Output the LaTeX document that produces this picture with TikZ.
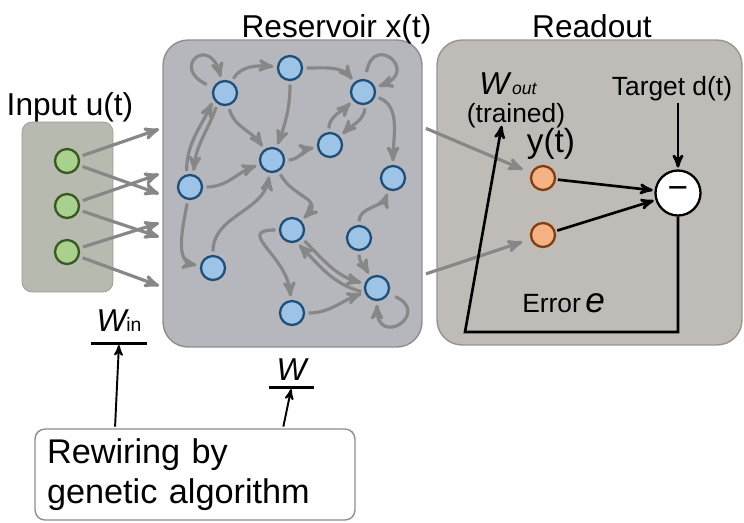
\documentclass[tikz,border=0pt]{standalone}
\usepackage{fontspec}
\setmainfont{Liberation Sans}
\usepackage{tikz}
\usetikzlibrary{arrows,positioning}
\definecolor{infill}{RGB}{183,186,175}
\definecolor{indraw}{RGB}{150,152,145}
\definecolor{resfill}{RGB}{181,183,188}
\definecolor{resdraw}{RGB}{140,142,146}
\definecolor{outfill}{RGB}{191,187,183}
\definecolor{outdraw}{RGB}{150,147,144}
\definecolor{edgegray}{RGB}{135,135,135}
\definecolor{greenfill}{RGB}{169,209,142}
\definecolor{greendraw}{RGB}{56,87,35}
\definecolor{bluefill}{RGB}{157,195,230}
\definecolor{bluedraw}{RGB}{31,78,121}
\definecolor{orangefill}{RGB}{244,177,131}
\definecolor{orangedraw}{RGB}{132,60,12}
\tikzset{
	%Define standard arrow tip
	>=stealth',
	%Define style for the three boxes
	inbox/.style={
		rectangle,
		rounded corners=0.2cm,
		draw=indraw, fill=infill, thin,
		minimum width=1.82cm,
		minimum height=3.4cm},
	resbox/.style={
		rectangle,
		rounded corners=0.5cm,
		draw=resdraw, fill=resfill, thick,
		minimum width=5.18cm,
		minimum height=6.14cm},
	outbox/.style={
		rectangle,
		rounded corners=0.5cm,
		draw=outdraw, fill=outfill, thick,
		minimum width=6.1cm,
		minimum height=6.1cm},
	gabox/.style={
		rectangle,
		rounded corners=0.2cm,
		draw=resdraw, fill=white, thick,
		minimum width=6.4cm,
		minimum height=1.82cm,
		inner xsep=0.24cm,
		text width=5.92cm,
		align=left,
		font=\fontsize{19.5}{22.8}\selectfont},
	% Define style for the units
	unit/.style={
		circle,
		line width=1.3pt,
		minimum size=0.48cm,
		inner sep=0pt},
	inunit/.style={unit, draw=greendraw, fill=greenfill},
	resunit/.style={unit, draw=bluedraw, fill=bluefill},
	outunit/.style={unit, draw=orangedraw, fill=orangefill},
	diffunit/.style={
		circle,
		draw=black, fill=white,
		line width=1.3pt,
		minimum size=0.9cm,
		inner sep=0pt,
		font=\fontsize{20}{20}\selectfont},
	% Define style for texts
	title/.style={font=\fontsize{18}{20}\selectfont, inner sep=0pt},
	label/.style={font=\fontsize{15}{17}\selectfont, inner sep=0pt},
	wlab/.style={font=\fontsize{18}{20}\selectfont\itshape},
	% Define arrow styles
	gpil/.style={
		->,
		draw=edgegray,
		line width=1.8pt,
		shorten <=2pt,
		shorten >=2pt,},
	selfloop/.style={
		gpil,
		shorten <=4pt,
		min distance=0.95cm},
	bpil/.style={
		->,
		draw=black,
		line width=1.5pt,
		shorten <=1pt,
		shorten >=1pt,},
	bar/.style={draw=black, line width=1.3pt}
}
\begin{document}
\begin{tikzpicture}[x=0.02cm, y=0.02cm]
		\useasboundingbox (0,0) rectangle (744,-522);
		%boxes
		\node[inbox] (inbox) at (67.5,-207) {};
		\node[resbox] (res) at (292.5,-193.5) {};
		\node[outbox] (outbox) at (589.5,-192.5) {};
		\node[title, anchor=base] (restitle) at (336.5,-37) {Reservoir x(t)};
		\node[title, anchor=base] (outtitle) at (592,-37) {Readout};
		\node[title, anchor=base] (intitle) at (70,-115) {Input u(t)};
		%input units
		\node[inunit] (u1) at (67,-161) {};
		\node[inunit] (u2) at (67,-206) {};
		\node[inunit] (u3) at (67,-252) {};
		\draw[gpil] (u1) -- (res.west |- 0,-128);
		\draw[gpil] (u1) -- (res.west |- 0,-195);
		\draw[gpil] (u2) -- (res.west |- 0,-173);
		\draw[gpil] (u2) -- (res.west |- 0,-238);
		\draw[gpil] (u3) -- (res.west |- 0,-222);
		\draw[gpil] (u3) -- (res.west |- 0,-287);
		%reservoir units
		\node[resunit] (x1) at (225,-93) {};
		\node[resunit] (x2) at (290,-68) {};
		\node[resunit] (x3) at (363,-92) {};
		\node[resunit] (x4) at (272,-160) {};
		\node[resunit] (x5) at (330,-145) {};
		\node[resunit] (x6) at (190,-187) {};
		\node[resunit] (x7) at (393,-178) {};
		\node[resunit] (x8) at (292,-230) {};
		\node[resunit] (x9) at (359,-238) {};
		\node[resunit] (x10) at (213,-268) {};
		\node[resunit] (x11) at (377,-288) {};
		\node[resunit] (x12) at (292,-313) {};
		% recurrent connections
		\draw[selfloop] (x1) to[out=155, in=105] (x1);
		\draw[selfloop] (x3) to[out=80, in=20] (x3);
		\draw[selfloop] (x11) to[out=-25, in=-90] (x11);
		\draw[gpil] (x1) to[out=60, in=175] (x2);
		\draw[gpil] (x2) to[out=0, in=130] (x3);
		\draw[gpil] (x1) to[out=-75, in=125] (x4);
		\draw[gpil] (x2) to[out=-90, in=70] (x4);
		\draw[gpil] (x6.105) to[out=90, in=-115] (x1.210);
		\draw[gpil] (x1.235) to[out=-110, in=85] (x6.75);
		\draw[gpil] (x6) to[out=0, in=200] (x4);
		\draw[gpil] (x10) to[out=90, in=-100] (x4);
		\draw[gpil] (x4) to[out=0, in=190] (x5);
		\draw[gpil] (x5.95) to[out=90, in=-135] (x3.220);
		\draw[gpil] (x3.280) to[out=-95, in=45] (x5.40);
		\draw[gpil] (x3) to[out=-20, in=90] (x7);
		\draw[gpil] (x4) to[out=-60, in=45, looseness=1.5] (x8);
		\draw[gpil] (x6) to[out=-100, in=170] (x10);
		\draw[gpil] (x8) to[out=180, in=95, looseness=1.6] (x12);
		\draw[gpil] (x9) to[out=90, in=-110] (x7);
		\draw[gpil] (x9) to[out=-90, in=120] (x11);
		\draw[gpil] (x8.-40) to[out=-45, in=165] (x11.160);
		\draw[gpil] (x11.200) to[out=165, in=-45] (x8.-70);
		\draw[gpil] (x12) to[out=0, in=200] (x11);
		%readout
		\node[outunit] (y1) at (543,-178) {};
		\node[outunit] (y2) at (543,-235) {};
		\node[diffunit] (diff) at (678,-193) {\raisebox{-2.5pt}{−}};
		\draw[gpil, shorten >=5pt] (res.east |- 0,-127) -- (y1);
		\draw[gpil, shorten >=5pt] (res.east |- 0,-275) -- (y2);
		\draw[bpil] (y1) -- (diff);
		\draw[bpil] (y2) -- (diff);
		\node[label, anchor=base] (target) at (672,-95) {Target d(t)};
		\draw[bpil] (target.south -| diff.north) -- (diff.north);
		\node[label, anchor=base] (trained) at (516,-122) {(trained)};
		\node[inner sep=0pt, anchor=base west] (wout) at (479,-94)
		{{\fontsize{18}{20}\selectfont\itshape W}\,{\fontsize{10}{12}\selectfont\itshape out}};
		\node[inner sep=0pt, anchor=base, font=\fontsize{19}{21}\selectfont] (yt) at (551,-152) {y(t)};
		\node[label, anchor=base west] (error) at (522,-312)
		{Error\,{\fontsize{20}{22}\selectfont\itshape e}};
		% error feeds back to the trained weights
		\coordinate (corner) at (465,-332);
		\coordinate (wtip) at (502,-124);
		\draw[bpil, shorten <=0pt] (diff.south) |- (corner) -- (wtip);
		%rewiring
		\node[gabox] (rewire) at (195,-474.5) {Rewiring by\\genetic algorithm};
		\node[wlab, anchor=base, inner xsep=0.1cm, inner ysep=0.24cm] (win) at (119,-331)
		{W{\fontsize{11}{12}\selectfont\upshape in}};
		\node[wlab, anchor=base, inner xsep=0.14cm, inner ysep=0.14cm] (wres) at (291.5,-380) {W};
		\draw[bar] (win.south west) -- (win.south east);
		\draw[bar] (wres.south west) -- (wres.south east);
		\draw[bpil, line width=1.1pt] (rewire.north -| 115,0) -- (win.south);
		\draw[bpil, line width=1.1pt] (rewire.north -| 283,0) -- (wres.south);
\end{tikzpicture}
\end{document}
